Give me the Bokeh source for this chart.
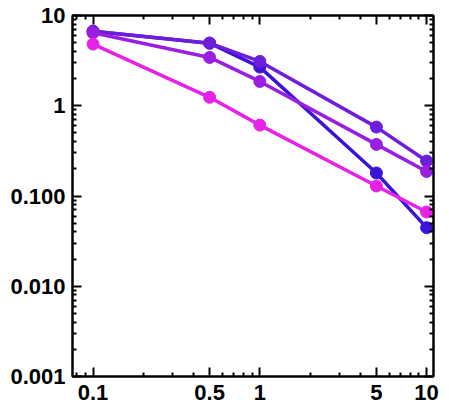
from bokeh.plotting import figure
from bokeh.models import LogAxis, FixedTicker, Range1d, CustomJSTickFormatter
from bokeh.embed import file_html
from bokeh.resources import INLINE

# values
x = [0.1, 0.5, 1, 5, 10]
blue = [6.7, 4.94, 2.68, 0.18, 0.0446]
purple = [6.7, 4.94, 3.1, 0.58, 0.244]
violet = [6.43, 3.43, 1.86, 0.373, 0.187]
magenta = [4.82, 1.24, 0.61, 0.129, 0.0665]

series = [
    (blue, "#3C14D8"),
    (purple, "#6C1EDC"),
    (violet, "#9A1EE0"),
    (magenta, "#E622E8"),
]

x_ticks = [0.1, 0.5, 1, 5, 10]
x_tick_labels = ["0.1", "0.5", "1", "5", "10"]
x_minor = [0.08, 0.09, 0.2, 0.3, 0.4, 0.6, 0.7, 0.8, 0.9,
           2, 3, 4, 6, 7, 8, 9]
y_ticks = [0.001, 0.01, 0.1, 1, 10]
y_tick_labels = ["0.001", "0.010", "0.100", "1", "10"]
y_minor = [m * d for d in [0.001, 0.01, 0.1, 1] for m in range(2, 10)]

LABEL_JS = """
for (let i = 0; i < vals.length; i++) {
    if (Math.abs(Math.log10(tick) - Math.log10(vals[i])) < 1e-6) return names[i];
}
return "";
"""


def label_formatter(vals, names):
    return CustomJSTickFormatter(args=dict(vals=vals, names=names), code=LABEL_JS)


p = figure(width=441, height=408, x_axis_type="log", y_axis_type="log",
           x_range=Range1d(0.0753, 11.0), y_range=Range1d(0.001, 10),
           output_backend="svg", toolbar_location=None)
p.min_border_left = 72
p.min_border_right = 8
p.min_border_top = 15
p.min_border_bottom = 32
p.xgrid.visible = False
p.ygrid.visible = False
p.outline_line_color = "black"
p.outline_line_width = 2
p.background_fill_color = "white"
p.border_fill_color = "white"

p.add_layout(LogAxis(), "right")
p.add_layout(LogAxis(), "above")

for ax in p.xaxis:
    ax.ticker = FixedTicker(ticks=x_ticks, minor_ticks=x_minor)
for ax in p.yaxis:
    ax.ticker = FixedTicker(ticks=y_ticks, minor_ticks=y_minor)

p.below[0].formatter = label_formatter(x_ticks, x_tick_labels)
p.left[0].formatter = label_formatter(y_ticks, y_tick_labels)
# frame ticks on the other two sides carry no labels
p.above[0].formatter = CustomJSTickFormatter(code="return '';")
p.right[0].formatter = CustomJSTickFormatter(code="return '';")

for ax in p.axis:
    ax.axis_line_color = "black"
    ax.axis_line_width = 2
    ax.major_tick_in = 9
    ax.major_tick_out = 0
    ax.minor_tick_in = 4
    ax.minor_tick_out = 0
    ax.major_tick_line_width = 2
    ax.minor_tick_line_width = 2
    ax.major_tick_line_color = "black"
    ax.minor_tick_line_color = "black"
    ax.major_label_text_font = "Liberation Sans"
    ax.major_label_text_font_style = "bold"
    ax.major_label_text_font_size = "22px"
    ax.major_label_text_color = "black"

p.below[0].major_label_standoff = 8
p.left[0].major_label_standoff = 7
p.right[0].major_label_standoff = 0
p.above[0].major_label_standoff = 0
p.right[0].major_label_text_font_size = "1px"
p.above[0].major_label_text_font_size = "1px"

for ys, col in series:
    p.line(x, ys, line_color=col, line_width=3.5)
    p.scatter(x, ys, size=12, fill_color=col, line_color=col)

open("out.html", "w").write(file_html(p, INLINE))
